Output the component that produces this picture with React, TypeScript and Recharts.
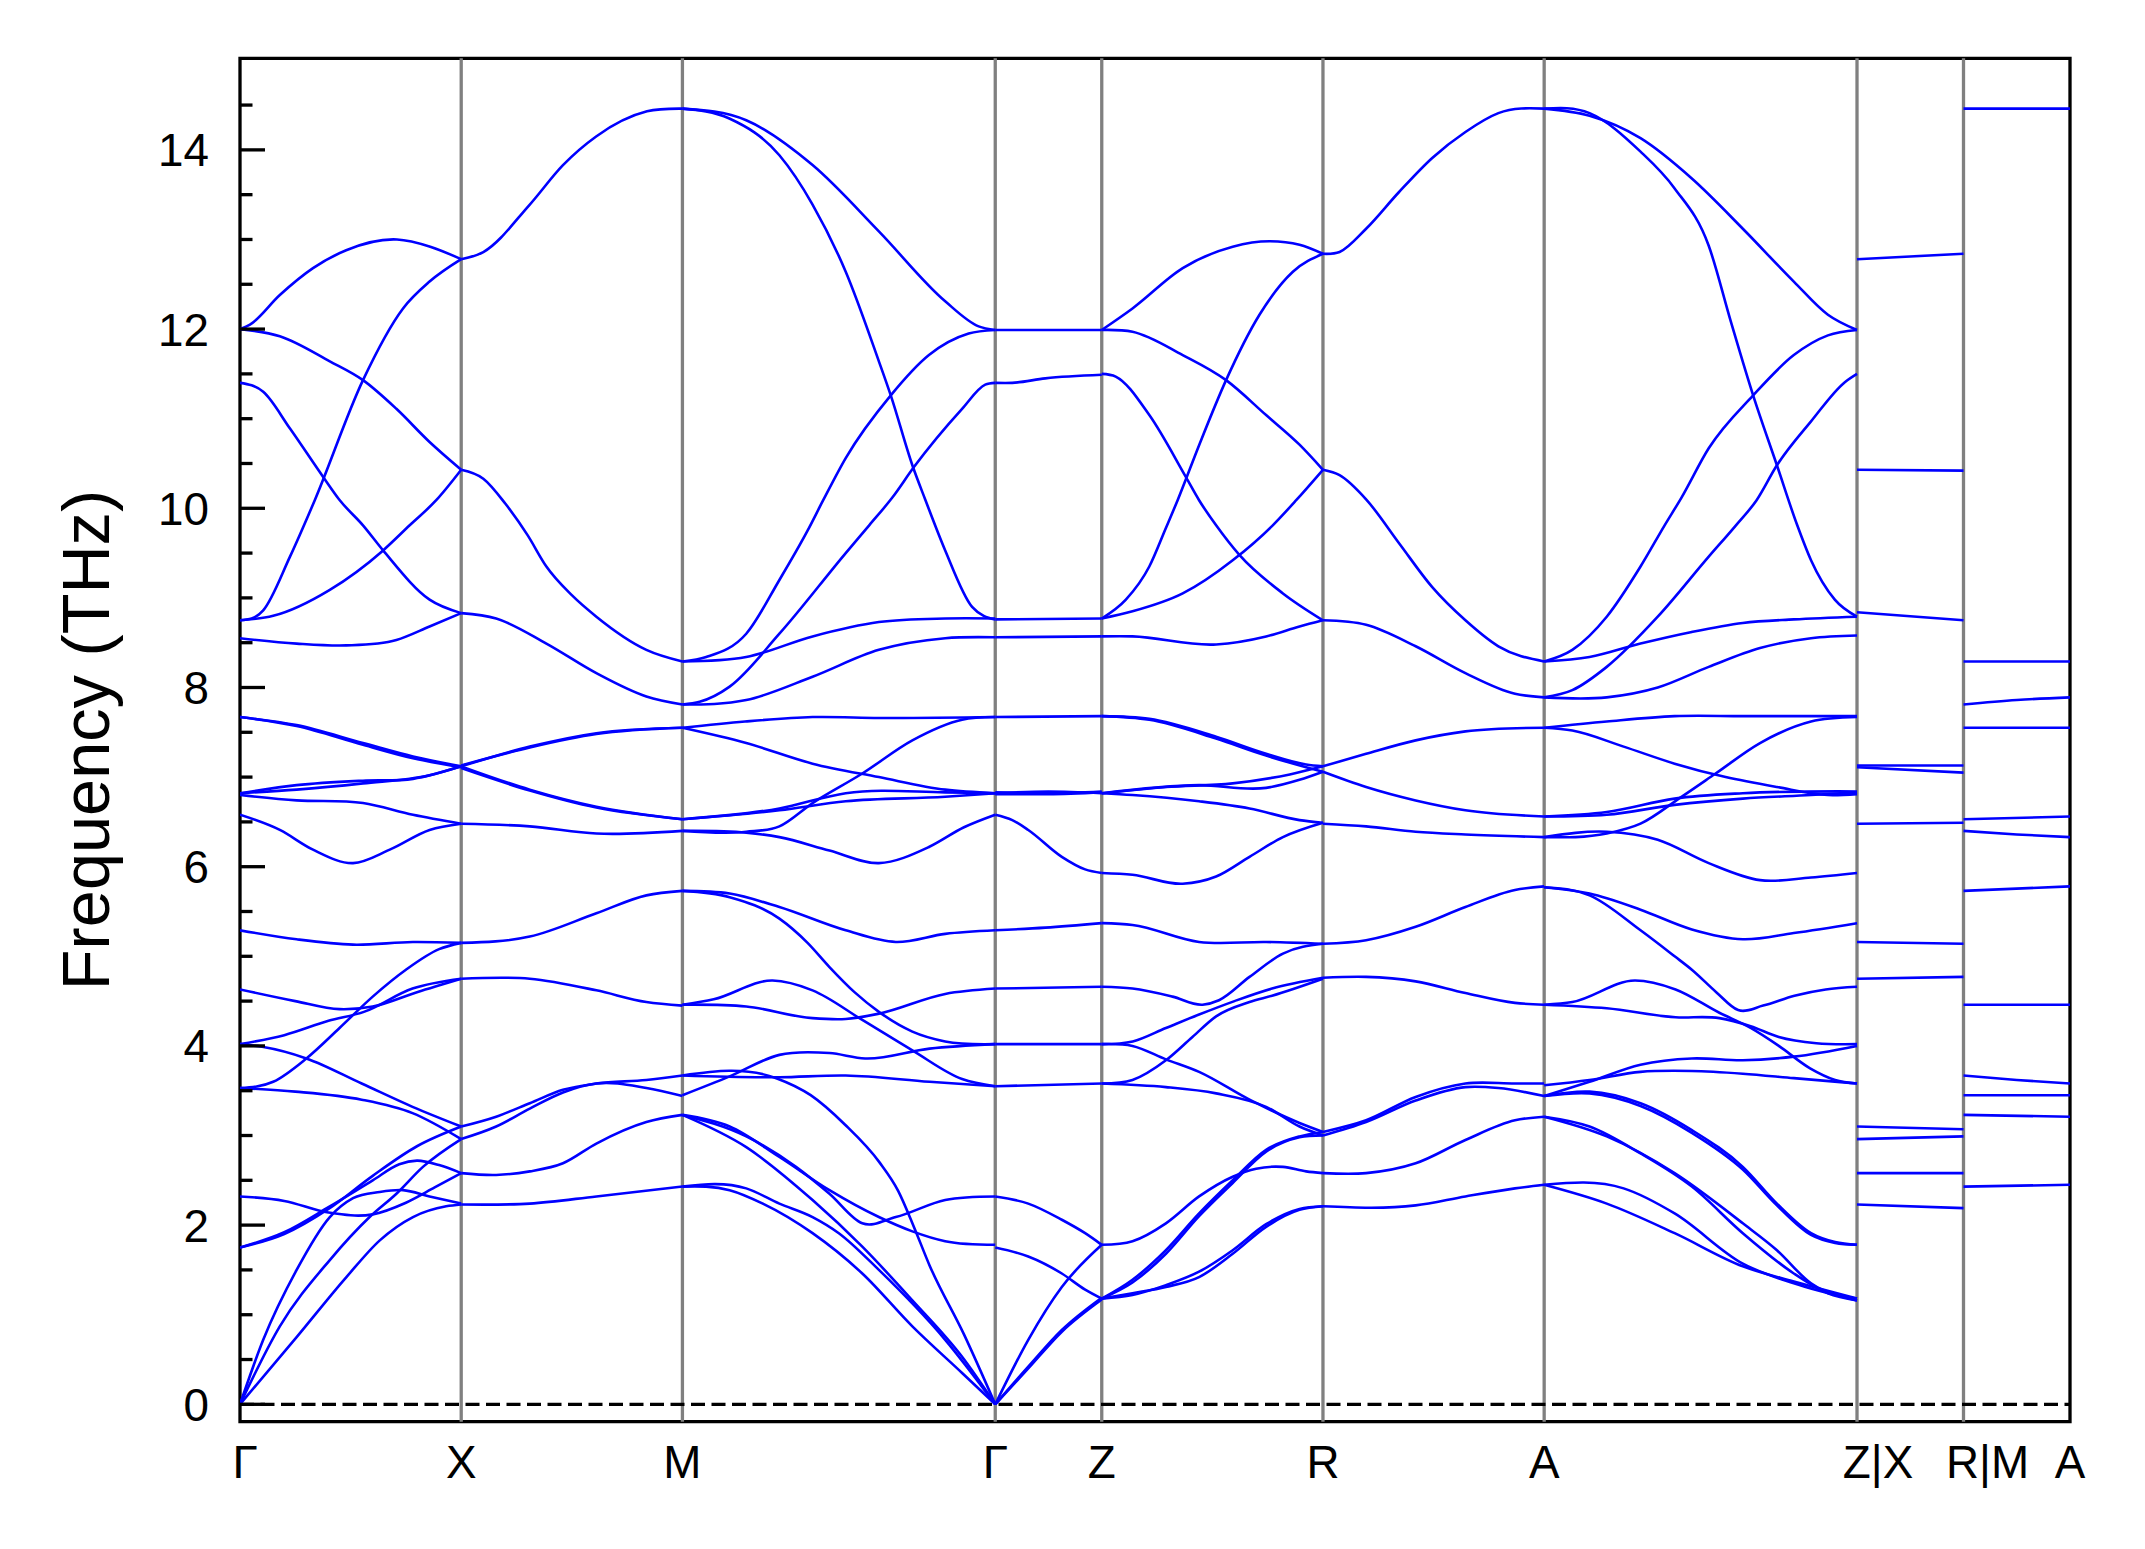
import React from 'react';
import { LineChart, Line, XAxis, YAxis, ReferenceLine, ReferenceArea } from 'recharts';

type Pt = [number, number];

// High-symmetry labels and segment lengths along the path
const K_LABELS = ['Γ', 'X', 'M', 'Γ', 'Z', 'R', 'A', 'Z|X', 'R|M', 'A'];
const SEG_LENGTHS = [0.1211, 0.1211, 0.17126, 0.0583, 0.1211, 0.1211, 0.17126, 0.0583, 0.0583];

const Y_MIN = -0.194;
const Y_MAX = 15.022;
const Y_TICKS = [0, 0.5, 1, 1.5, 2, 2.5, 3, 3.5, 4, 4.5, 5, 5.5, 6, 6.5, 7, 7.5, 8, 8.5, 9, 9.5, 10, 10.5, 11, 11.5, 12, 12.5, 13, 13.5, 14, 14.5];

// Band curves per segment: [fraction along segment, frequency THz]
const SEG_GX: Pt[][] = [
  [[0, 12.0], [0.045, 12.05], [0.18, 12.38], [0.33, 12.68], [0.48, 12.88], [0.71, 13.0], [0.86, 12.92], [1, 12.78]],
  [[0, 12.0], [0.18, 11.92], [0.406, 11.64], [0.556, 11.43], [0.707, 11.11], [0.857, 10.74], [1, 10.43]],
  [[0, 8.75], [0.105, 8.86], [0.226, 9.46], [0.338, 10.09], [0.556, 11.43], [0.737, 12.23], [0.857, 12.53], [1, 12.78]],
  [[0, 11.4], [0.105, 11.3], [0.226, 10.89], [0.376, 10.35], [0.451, 10.09], [0.556, 9.81], [0.647, 9.53], [0.857, 8.98], [1, 8.83]],
  [[0, 8.75], [0.15, 8.8], [0.406, 9.09], [0.647, 9.53], [0.767, 9.81], [0.887, 10.09], [1, 10.43]],
  [[0, 8.55], [0.256, 8.49], [0.481, 8.47], [0.707, 8.53], [0.857, 8.68], [1, 8.83]],
  [[0, 7.67], [0.256, 7.58], [0.556, 7.38], [0.782, 7.23], [1, 7.12]],
  [[0, 7.67], [0.256, 7.57], [0.556, 7.36], [0.782, 7.21], [1, 7.11]],
  [[0, 6.82], [0.256, 6.91], [0.556, 6.96], [0.782, 6.98], [1, 7.12]],
  [[0, 6.82], [0.256, 6.86], [0.556, 6.93], [0.857, 7.02], [1, 7.12]],
  [[0, 6.8], [0.256, 6.74], [0.556, 6.71], [0.782, 6.58], [1, 6.48]],
  [[0, 6.58], [0.18, 6.41], [0.33, 6.19], [0.511, 6.04], [0.677, 6.19], [0.857, 6.41], [1, 6.48]],
  [[0, 5.29], [0.256, 5.19], [0.511, 5.13], [0.782, 5.16], [1, 5.15]],
  [[0, 4.63], [0.25, 4.5], [0.45, 4.41], [0.6, 4.44], [0.8, 4.6], [1, 4.75]],
  [[0, 4.02], [0.2, 4.12], [0.4, 4.28], [0.56, 4.38], [0.78, 4.64], [1, 4.75]],
  [[0, 4.02], [0.1, 3.99], [0.3, 3.86], [0.55, 3.58], [0.78, 3.32], [1, 3.1]],
  [[0, 3.53], [0.15, 3.6], [0.3, 3.86], [0.45, 4.2], [0.6, 4.55], [0.75, 4.85], [0.9, 5.08], [1, 5.15]],
  [[0, 3.53], [0.25, 3.49], [0.55, 3.4], [0.78, 3.25], [1, 2.96]],
  [[0, 2.32], [0.2, 2.27], [0.4, 2.14], [0.6, 2.12], [0.75, 2.25], [0.88, 2.42], [1, 2.58]],
  [[0, 1.75], [0.2, 1.92], [0.4, 2.2], [0.6, 2.5], [0.72, 2.68], [0.8, 2.72], [0.9, 2.67], [1, 2.58]],
  [[0, 1.75], [0.2, 1.9], [0.4, 2.18], [0.6, 2.55], [0.8, 2.88], [1, 3.1]],
  [[0, 0], [0.256, 0.75], [0.481, 1.42], [0.632, 1.83], [0.782, 2.09], [0.932, 2.21], [1, 2.23]],
  [[0, 0], [0.18, 0.87], [0.406, 1.61], [0.586, 2.09], [0.707, 2.35], [0.827, 2.65], [1, 2.96]],
  [[0, 0], [0.105, 0.72], [0.256, 1.5], [0.406, 2.09], [0.511, 2.3], [0.632, 2.37], [0.737, 2.39], [0.857, 2.32], [1, 2.24]],
];

const SEG_XM: Pt[][] = [
  [[0, 12.78], [0.1, 12.86], [0.31, 13.39], [0.46, 13.83], [0.61, 14.15], [0.84, 14.43], [1, 14.46]],
  [[0, 10.43], [0.1, 10.33], [0.2, 10.05], [0.3, 9.7], [0.385, 9.35], [0.5, 9.03], [0.611, 8.79], [0.837, 8.42], [1, 8.29]],
  [[0, 8.83], [0.158, 8.77], [0.385, 8.49], [0.611, 8.16], [0.837, 7.9], [1, 7.81]],
  [[0, 7.12], [0.31, 6.86], [0.611, 6.67], [1, 6.53]],
  [[0, 7.1], [0.31, 6.85], [0.611, 6.66], [1, 6.53]],
  [[0, 7.12], [0.31, 7.34], [0.611, 7.49], [1, 7.55]],
  [[0, 7.13], [0.31, 7.33], [0.611, 7.48], [1, 7.55]],
  [[0, 6.48], [0.31, 6.45], [0.611, 6.37], [1, 6.4]],
  [[0, 5.15], [0.31, 5.22], [0.611, 5.48], [0.837, 5.68], [1, 5.73]],
  [[0, 4.75], [0.31, 4.75], [0.611, 4.62], [0.837, 4.49], [1, 4.45]],
  [[0, 3.1], [0.158, 3.21], [0.31, 3.36], [0.46, 3.51], [0.611, 3.58], [0.837, 3.62], [1, 3.67]],
  [[0, 2.96], [0.158, 3.1], [0.31, 3.3], [0.46, 3.48], [0.611, 3.58], [0.837, 3.53], [1, 3.44]],
  [[0, 2.58], [0.158, 2.56], [0.31, 2.6], [0.46, 2.69], [0.611, 2.91], [0.837, 3.15], [1, 3.23]],
  [[0, 2.23], [0.31, 2.24], [0.611, 2.32], [1, 2.43]],
];

const SEG_MG: Pt[][] = [
  [[0, 14.46], [0.15, 14.35], [0.31, 13.94], [0.416, 13.39], [0.522, 12.64], [0.628, 11.64], [0.666, 11.26], [0.735, 10.48], [0.777, 10.09], [0.84, 9.53], [0.926, 8.9], [0.963, 8.8], [1, 8.76]],
  [[0, 14.46], [0.204, 14.33], [0.416, 13.83], [0.628, 13.09], [0.84, 12.31], [0.947, 12.03], [1, 11.99]],
  [[0, 8.29], [0.076, 8.34], [0.204, 8.6], [0.31, 9.2], [0.4, 9.75], [0.45, 10.09], [0.522, 10.56], [0.666, 11.26], [0.788, 11.71], [0.915, 11.95], [1, 11.99]],
  [[0, 7.81], [0.055, 7.84], [0.151, 8.01], [0.31, 8.6], [0.522, 9.5], [0.597, 9.81], [0.671, 10.12], [0.74, 10.46], [0.894, 11.11], [0.968, 11.38], [1, 11.4]],
  [[0, 8.29], [0.204, 8.34], [0.416, 8.57], [0.628, 8.73], [0.84, 8.77], [1, 8.77]],
  [[0, 7.81], [0.204, 7.86], [0.416, 8.12], [0.628, 8.42], [0.84, 8.55], [1, 8.56]],
  [[0, 7.55], [0.2, 7.62], [0.416, 7.67], [0.628, 7.66], [1, 7.67]],
  [[0, 7.55], [0.204, 7.38], [0.416, 7.15], [0.628, 7.0], [0.84, 6.86], [1, 6.82]],
  [[0, 6.4], [0.204, 6.39], [0.31, 6.45], [0.416, 6.71], [0.575, 7.04], [0.735, 7.41], [0.894, 7.64], [1, 7.67]],
  [[0, 6.4], [0.204, 6.38], [0.31, 6.33], [0.47, 6.18], [0.628, 6.04], [0.788, 6.22], [0.9, 6.44], [1, 6.58]],
  [[0, 6.53], [0.31, 6.65], [0.522, 6.82], [0.84, 6.83], [1, 6.82]],
  [[0, 6.53], [0.31, 6.63], [0.522, 6.73], [0.84, 6.78], [1, 6.82]],
  [[0, 5.73], [0.151, 5.7], [0.31, 5.55], [0.522, 5.29], [0.682, 5.16], [0.84, 5.25], [1, 5.29]],
  [[0, 5.73], [0.151, 5.66], [0.31, 5.42], [0.4, 5.15], [0.47, 4.88], [0.55, 4.6], [0.628, 4.38], [0.735, 4.16], [0.84, 4.05], [1, 4.02]],
  [[0, 4.46], [0.1, 4.52], [0.288, 4.73], [0.416, 4.62], [0.575, 4.29], [0.735, 3.95], [0.894, 3.63], [1, 3.55]],
  [[0, 4.46], [0.204, 4.44], [0.416, 4.31], [0.522, 4.3], [0.628, 4.36], [0.84, 4.58], [1, 4.64]],
  [[0, 3.67], [0.31, 3.65], [0.522, 3.67], [0.79, 3.6], [1, 3.55]],
  [[0, 3.45], [0.151, 3.66], [0.31, 3.9], [0.47, 3.92], [0.584, 3.86], [0.79, 3.97], [1, 4.02]],
  [[0, 3.67], [0.3, 3.64], [0.41, 3.45], [0.52, 3.12], [0.63, 2.7], [0.69, 2.38], [0.74, 1.98], [0.79, 1.55], [0.9, 0.78], [1, 0]],
  [[0, 3.23], [0.204, 2.87], [0.416, 2.28], [0.575, 1.76], [0.735, 1.16], [0.894, 0.53], [1, 0]],
  [[0, 2.43], [0.204, 2.41], [0.31, 2.24], [0.416, 2.09], [0.5, 1.91], [0.628, 1.5], [0.84, 0.72], [1, 0]],
  [[0, 2.43], [0.151, 2.39], [0.257, 2.24], [0.416, 1.91], [0.575, 1.46], [0.735, 0.87], [0.894, 0.35], [1, 0]],
  [[0, 3.23], [0.151, 3.1], [0.31, 2.76], [0.47, 2.39], [0.628, 2.09], [0.735, 1.93], [0.84, 1.82], [1, 1.78]],
  [[0, 3.23], [0.204, 2.99], [0.363, 2.65], [0.47, 2.35], [0.575, 2.02], [0.682, 2.09], [0.84, 2.28], [1, 2.32]],
];

const SEG_GZ: Pt[][] = [
  [[0, 11.99], [0.5, 11.99], [1, 11.99]],
  [[0, 11.4], [0.16, 11.4], [0.47, 11.45], [1, 11.49]],
  [[0, 8.76], [1, 8.77]],
  [[0, 8.56], [1, 8.57]],
  [[0, 7.67], [1, 7.68]],
  [[0, 6.82], [0.5, 6.84], [1, 6.82]],
  [[0, 6.81], [0.5, 6.81], [1, 6.83]],
  [[0, 6.83], [0.5, 6.82], [1, 6.84]],
  [[0, 6.58], [0.16, 6.52], [0.31, 6.41], [0.625, 6.11], [0.844, 5.97], [1, 5.93]],
  [[0, 5.29], [0.47, 5.32], [1, 5.37]],
  [[0, 4.64], [1, 4.66]],
  [[0, 4.02], [1, 4.02]],
  [[0, 3.55], [1, 3.58]],
  [[0, 2.32], [0.31, 2.24], [0.625, 2.06], [0.844, 1.91], [1, 1.78]],
  [[0, 1.75], [0.31, 1.65], [0.625, 1.46], [0.844, 1.28], [1, 1.18]],
  [[0, 0], [0.31, 0.72], [0.625, 1.31], [1, 1.78]],
  [[0, 0], [0.31, 0.42], [0.625, 0.83], [1, 1.19]],
  [[0, 0], [0.31, 0.4], [0.625, 0.81], [1, 1.17]],
];

const SEG_ZR: Pt[][] = [
  [[0, 11.99], [0.139, 12.23], [0.366, 12.68], [0.592, 12.92], [0.758, 12.98], [0.894, 12.94], [1, 12.84]],
  [[0, 11.99], [0.139, 11.97], [0.366, 11.71], [0.562, 11.43], [0.743, 11.04], [0.894, 10.71], [1, 10.43]],
  [[0, 11.5], [0.063, 11.47], [0.215, 11.04], [0.38, 10.35], [0.44, 10.09], [0.517, 9.81], [0.622, 9.48], [0.819, 9.05], [1, 8.75]],
  [[0, 8.77], [0.109, 8.98], [0.215, 9.35], [0.29, 9.78], [0.343, 10.09], [0.441, 10.71], [0.562, 11.43], [0.713, 12.16], [0.864, 12.64], [1, 12.84]],
  [[0, 8.77], [0.139, 8.85], [0.366, 9.05], [0.592, 9.42], [0.773, 9.81], [0.879, 10.09], [1, 10.43]],
  [[0, 8.57], [0.139, 8.57], [0.517, 8.48], [0.743, 8.57], [0.894, 8.68], [1, 8.75]],
  [[0, 7.68], [0.215, 7.65], [0.517, 7.45], [0.743, 7.26], [0.924, 7.14], [1, 7.12]],
  [[0, 7.68], [0.215, 7.64], [0.517, 7.43], [0.743, 7.24], [0.924, 7.11], [1, 7.06]],
  [[0, 6.82], [0.44, 6.91], [0.743, 6.88], [0.894, 6.97], [1, 7.06]],
  [[0, 6.82], [0.29, 6.89], [0.592, 6.93], [0.85, 7.03], [1, 7.12]],
  [[0, 6.82], [0.139, 6.8], [0.44, 6.73], [0.668, 6.65], [0.894, 6.52], [1, 6.49]],
  [[0, 5.93], [0.139, 5.91], [0.366, 5.81], [0.517, 5.89], [0.668, 6.11], [0.819, 6.33], [1, 6.49]],
  [[0, 5.37], [0.139, 5.35], [0.44, 5.16], [0.743, 5.16], [1, 5.14]],
  [[0, 4.66], [0.139, 4.64], [0.32, 4.55], [0.456, 4.46], [0.53, 4.51], [0.668, 4.77], [0.819, 5.03], [1, 5.14]],
  [[0, 4.02], [0.14, 4.05], [0.29, 4.2], [0.44, 4.35], [0.6, 4.5], [0.77, 4.64], [1, 4.76]],
  [[0, 3.58], [0.139, 3.62], [0.29, 3.84], [0.41, 4.1], [0.517, 4.33], [0.668, 4.49], [0.77, 4.56], [1, 4.75]],
  [[0, 4.02], [0.139, 4.0], [0.29, 3.85], [0.44, 3.71], [0.668, 3.4], [0.894, 3.14], [1, 3.04]],
  [[0, 3.58], [0.29, 3.54], [0.517, 3.47], [0.743, 3.32], [0.894, 3.1], [1, 3.0]],
  [[0, 1.78], [0.139, 1.82], [0.29, 2.02], [0.44, 2.32], [0.592, 2.54], [0.698, 2.63], [0.819, 2.65], [0.924, 2.6], [1, 2.58]],
  [[0, 1.18], [0.139, 1.39], [0.29, 1.72], [0.44, 2.13], [0.592, 2.5], [0.743, 2.84], [0.894, 2.99], [1, 3.04]],
  [[0, 1.18], [0.139, 1.36], [0.29, 1.68], [0.44, 2.1], [0.592, 2.47], [0.743, 2.82], [0.894, 2.98], [1, 3.0]],
  [[0, 1.18], [0.139, 1.24], [0.29, 1.31], [0.44, 1.42], [0.592, 1.68], [0.743, 1.98], [0.894, 2.17], [1, 2.21]],
  [[0, 1.18], [0.139, 1.22], [0.29, 1.33], [0.44, 1.48], [0.592, 1.72], [0.743, 2.01], [0.894, 2.18], [1, 2.21]],
];

const SEG_RA: Pt[][] = [
  [[0, 12.84], [0.075, 12.86], [0.195, 13.12], [0.344, 13.53], [0.494, 13.91], [0.644, 14.2], [0.793, 14.41], [1, 14.46]],
  [[0, 10.43], [0.075, 10.37], [0.195, 10.1], [0.344, 9.61], [0.494, 9.12], [0.644, 8.75], [0.793, 8.46], [1, 8.29]],
  [[0, 8.75], [0.195, 8.7], [0.419, 8.46], [0.644, 8.16], [0.868, 7.93], [1, 7.89]],
  [[0, 7.12], [0.195, 7.26], [0.419, 7.41], [0.644, 7.51], [1, 7.55]],
  [[0, 7.06], [0.195, 6.89], [0.419, 6.74], [0.644, 6.63], [1, 6.56]],
  [[0, 6.48], [0.195, 6.45], [0.419, 6.39], [0.644, 6.36], [1, 6.33]],
  [[0, 5.14], [0.195, 5.18], [0.419, 5.33], [0.644, 5.55], [0.868, 5.74], [1, 5.78]],
  [[0, 4.76], [0.195, 4.77], [0.419, 4.72], [0.644, 4.59], [0.868, 4.48], [1, 4.46]],
  [[0, 3.04], [0.195, 3.17], [0.419, 3.43], [0.644, 3.58], [0.868, 3.58], [1, 3.58]],
  [[0, 3.0], [0.195, 3.15], [0.419, 3.39], [0.644, 3.54], [0.793, 3.53], [1, 3.44]],
  [[0, 2.58], [0.195, 2.58], [0.419, 2.69], [0.644, 2.95], [0.868, 3.17], [1, 3.21]],
  [[0, 2.21], [0.419, 2.22], [0.644, 2.32], [0.868, 2.41], [1, 2.45]],
];

const SEG_AZ: Pt[][] = [
  [[0, 14.46], [0.145, 14.38], [0.308, 14.13], [0.472, 13.68], [0.635, 13.12], [0.798, 12.53], [0.907, 12.16], [1, 11.99]],
  [[0, 14.46], [0.145, 14.41], [0.308, 13.98], [0.417, 13.57], [0.526, 12.93], [0.597, 12.08], [0.668, 11.26], [0.744, 10.48], [0.809, 9.81], [0.853, 9.42], [0.929, 8.98], [1, 8.79]],
  [[0, 8.29], [0.09, 8.42], [0.2, 8.79], [0.308, 9.35], [0.385, 9.81], [0.439, 10.12], [0.526, 10.67], [0.668, 11.26], [0.798, 11.71], [0.907, 11.93], [1, 11.99]],
  [[0, 7.89], [0.09, 7.97], [0.2, 8.23], [0.363, 8.79], [0.526, 9.46], [0.613, 9.81], [0.679, 10.09], [0.744, 10.48], [0.853, 10.97], [0.962, 11.41], [1, 11.5]],
  [[0, 8.29], [0.145, 8.34], [0.308, 8.49], [0.472, 8.62], [0.635, 8.72], [0.798, 8.76], [1, 8.79]],
  [[0, 7.89], [0.2, 7.89], [0.363, 8.0], [0.526, 8.23], [0.69, 8.44], [0.853, 8.55], [1, 8.58]],
  [[0, 7.55], [0.2, 7.62], [0.417, 7.68], [0.635, 7.68], [1, 7.68]],
  [[0, 7.55], [0.09, 7.52], [0.254, 7.34], [0.417, 7.15], [0.58, 7.0], [0.744, 6.89], [0.907, 6.8], [1, 6.81]],
  [[0, 6.56], [0.2, 6.61], [0.417, 6.76], [0.635, 6.82], [1, 6.84]],
  [[0, 6.56], [0.2, 6.58], [0.417, 6.69], [0.635, 6.76], [0.853, 6.8], [1, 6.83]],
  [[0, 6.33], [0.2, 6.37], [0.308, 6.48], [0.439, 6.78], [0.548, 7.04], [0.69, 7.38], [0.853, 7.62], [1, 7.67]],
  [[0, 6.33], [0.2, 6.39], [0.363, 6.3], [0.526, 6.04], [0.69, 5.85], [0.853, 5.88], [1, 5.93]],
  [[0, 5.77], [0.145, 5.7], [0.308, 5.52], [0.472, 5.3], [0.635, 5.19], [0.798, 5.26], [1, 5.37]],
  [[0, 5.77], [0.145, 5.68], [0.308, 5.29], [0.417, 5.0], [0.472, 4.85], [0.55, 4.6], [0.62, 4.4], [0.7, 4.45], [0.8, 4.56], [0.9, 4.63], [1, 4.66]],
  [[0, 4.46], [0.09, 4.49], [0.29, 4.73], [0.42, 4.63], [0.56, 4.37], [0.66, 4.2], [0.75, 4.0], [0.85, 3.75], [0.93, 3.62], [1, 3.58]],
  [[0, 4.46], [0.2, 4.42], [0.42, 4.32], [0.56, 4.31], [0.66, 4.22], [0.75, 4.1], [0.87, 4.03], [1, 4.02]],
  [[0, 3.44], [0.145, 3.6], [0.308, 3.79], [0.472, 3.86], [0.635, 3.84], [0.798, 3.88], [1, 4.0]],
  [[0, 3.56], [0.145, 3.62], [0.308, 3.71], [0.472, 3.72], [0.635, 3.69], [0.798, 3.64], [1, 3.58]],
  [[0, 3.44], [0.145, 3.49], [0.308, 3.36], [0.472, 3.06], [0.635, 2.65], [0.744, 2.24], [0.853, 1.91], [0.93, 1.81], [1, 1.78]],
  [[0, 3.44], [0.145, 3.47], [0.308, 3.33], [0.472, 3.03], [0.635, 2.62], [0.744, 2.22], [0.853, 1.89], [0.93, 1.8], [1, 1.78]],
  [[0, 3.21], [0.2, 2.99], [0.417, 2.58], [0.635, 2.02], [0.744, 1.72], [0.853, 1.35], [1, 1.18]],
  [[0, 3.21], [0.145, 3.1], [0.308, 2.8], [0.472, 2.43], [0.635, 1.91], [0.798, 1.46], [0.907, 1.24], [1, 1.16]],
  [[0, 2.45], [0.254, 2.41], [0.417, 2.13], [0.635, 1.57], [0.798, 1.35], [1, 1.16]],
  [[0, 2.45], [0.2, 2.24], [0.417, 1.91], [0.635, 1.54], [0.798, 1.37], [1, 1.18]],
];

const SEG_XR: Pt[][] = [
  [[0, 12.78], [1, 12.84]],
  [[0, 10.43], [1, 10.42]],
  [[0, 8.84], [1, 8.75]],
  [[0, 7.13], [1, 7.13]],
  [[0, 7.11], [1, 7.05]],
  [[0, 6.48], [1, 6.49]],
  [[0, 5.16], [1, 5.14]],
  [[0, 4.75], [1, 4.77]],
  [[0, 3.1], [1, 3.07]],
  [[0, 2.96], [1, 2.99]],
  [[0, 2.58], [1, 2.58]],
  [[0, 2.23], [1, 2.19]],
];

const SEG_MA: Pt[][] = [
  [[0, 14.46], [1, 14.46]],
  [[0, 8.29], [1, 8.29]],
  [[0, 7.81], [0.5, 7.86], [1, 7.89]],
  [[0, 7.55], [1, 7.55]],
  [[0, 6.53], [1, 6.56]],
  [[0, 6.4], [0.5, 6.36], [1, 6.33]],
  [[0, 5.73], [1, 5.78]],
  [[0, 4.46], [1, 4.46]],
  [[0, 3.67], [0.5, 3.62], [1, 3.58]],
  [[0, 3.45], [1, 3.45]],
  [[0, 3.23], [1, 3.21]],
  [[0, 2.43], [1, 2.45]],
];

const SEGMENTS: Pt[][][] = [SEG_GX, SEG_XM, SEG_MG, SEG_GZ, SEG_ZR, SEG_RA, SEG_AZ, SEG_XR, SEG_MA];

const K_POS: number[] = SEG_LENGTHS.reduce((acc, len) => { acc.push(acc[acc.length - 1] + len); return acc; }, [0] as number[]);
const K_END = K_POS[K_POS.length - 1];

const SERIES = SEGMENTS.flatMap((curves, si) => {
  const k0 = K_POS[si];
  const k1 = K_POS[si + 1];
  return curves.map((c, ci) => ({
    id: `s${si}-${ci}`,
    data: c.map(([t, v]) => ({ k: k0 + t * (k1 - k0), v })),
  }));
});

// Smooth cubic Hermite curve in x (parabolic tangents), for the line generator
function smoothX(context: any) {
  let xs: number[] = [];
  let ys: number[] = [];
  return {
    areaStart() {},
    areaEnd() {},
    lineStart() { xs = []; ys = []; },
    point(x: number, y: number) { xs.push(+x); ys.push(+y); },
    lineEnd() {
      const n = xs.length;
      if (n === 0) return;
      context.moveTo(xs[0], ys[0]);
      if (n === 1) return;
      if (n === 2) { context.lineTo(xs[1], ys[1]); return; }
      const s: number[] = [];
      for (let i = 0; i < n - 1; i++) s.push((ys[i + 1] - ys[i]) / (xs[i + 1] - xs[i] || 1e-9));
      const m: number[] = new Array(n);
      for (let i = 1; i < n - 1; i++) {
        const h0 = xs[i] - xs[i - 1];
        const h1 = xs[i + 1] - xs[i];
        m[i] = (s[i - 1] * h1 + s[i] * h0) / (h0 + h1);
      }
      m[0] = (3 * s[0] - m[1]) / 2;
      m[n - 1] = (3 * s[n - 2] - m[n - 2]) / 2;
      for (let i = 0; i < n - 1; i++) {
        const h = xs[i + 1] - xs[i];
        context.bezierCurveTo(
          xs[i] + h / 3, ys[i] + (m[i] * h) / 3,
          xs[i + 1] - h / 3, ys[i + 1] - (m[i + 1] * h) / 3,
          xs[i + 1], ys[i + 1],
        );
      }
    },
  };
}

const FONT = '"Liberation Sans", Arial, Helvetica, sans-serif';
const TICK_FS = 45.8;
const X_LABEL_DX = [5, 0, 0, 0, 0, 0, 0, 21, 24, 0];

const YTick = (props: any) => {
  const { x, y, payload } = props;
  const v = payload.value as number;
  const major = Math.abs(v / 2 - Math.round(v / 2)) < 1e-6;
  return (
    <g>
      <line x1={x} x2={x + (major ? 25 : 12.5)} y1={y} y2={y} stroke="#000" strokeWidth={3.3} />
      {major && (
        <text x={x - 31} y={y} dy="0.36em" textAnchor="end" fontSize={TICK_FS} fontFamily={FONT} fill="#000">
          {v}
        </text>
      )}
    </g>
  );
};

const XTick = (props: any) => {
  const { x, y, payload } = props;
  const i = payload.index as number;
  return (
    <text x={x + X_LABEL_DX[i]} y={y + 56} textAnchor="middle" fontSize={TICK_FS} fontFamily={FONT} fill="#000">
      {K_LABELS[i]}
    </text>
  );
};

const YTitle = () => (
  <text x={101} y={732} transform="rotate(-90 101 732)" textAnchor="middle" fontSize={66.7} fontFamily={FONT} fill="#000">
    Frequency (THz)
  </text>
);

export default function App() {
  return (
    <div style={{ width: 2129, height: 1533 }}>
      <LineChart width={2129} height={1533} margin={{ top: 50.3, right: 67, left: 0, bottom: 59.3 }}>
        <XAxis
          dataKey="k"
          type="number"
          domain={[0, K_END]}
          ticks={K_POS}
          interval={0}
          allowDataOverflow
          axisLine={false}
          tickLine={false}
          tickSize={0}
          tickMargin={0}
          height={60}
          tick={<XTick />}
        />
        <YAxis
          type="number"
          domain={[Y_MIN, Y_MAX]}
          ticks={Y_TICKS}
          interval={0}
          allowDataOverflow
          axisLine={false}
          tickLine={false}
          tickSize={0}
          tickMargin={0}
          width={232}
          tick={<YTick />}
          label={<YTitle />}
        />
        {K_POS.slice(1, -1).map((k, i) => (
          <ReferenceLine key={`kl${i}`} x={k} stroke="#808080" strokeWidth={3.3} />
        ))}
        <ReferenceLine y={0} stroke="#000" strokeWidth={3.3} strokeDasharray="14 6.5" />
        {SERIES.map((s) => (
          <Line
            key={s.id}
            data={s.data}
            dataKey="v"
            type={smoothX as any}
            stroke="#0000ff"
            strokeWidth={2.6}
            dot={false}
            activeDot={false}
            isAnimationActive={false}
          />
        ))}
        <ReferenceArea x1={0} x2={K_END} y1={Y_MIN} y2={Y_MAX} fill="none" stroke="#000" strokeWidth={3.3} ifOverflow="visible" />
      </LineChart>
    </div>
  );
}
